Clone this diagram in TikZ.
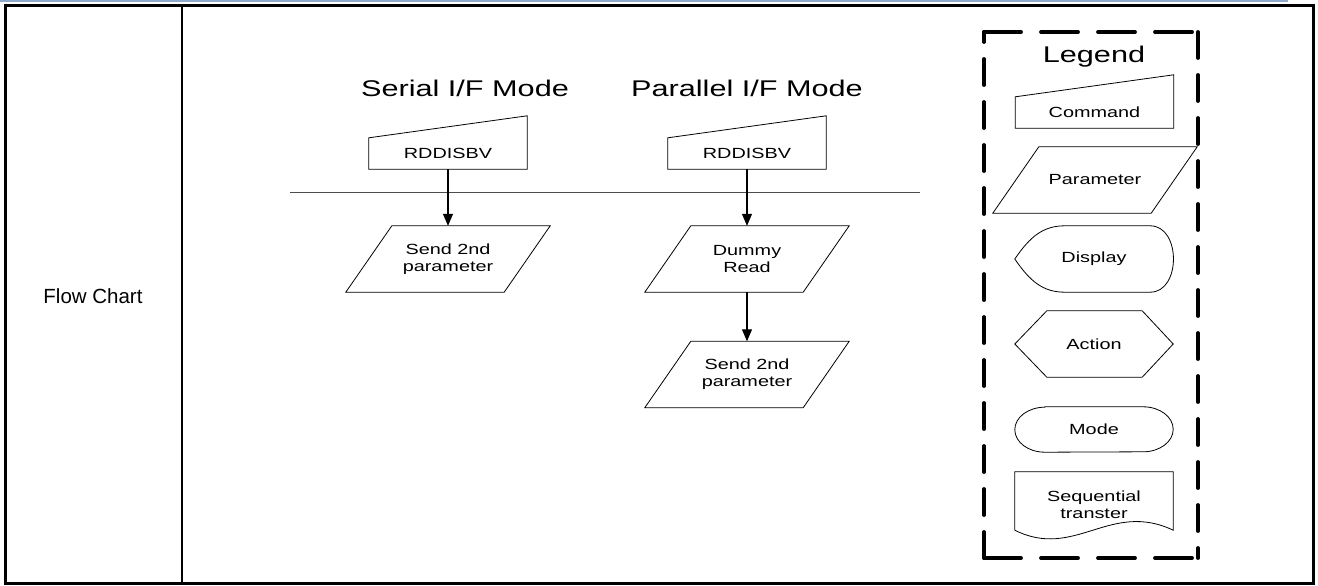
\documentclass[tikz,border=0pt]{standalone}
\usepackage{fontspec}
\setmainfont{Liberation Sans}
\newfontfamily\diagfont[FakeStretch=1.35]{Liberation Sans}
\usetikzlibrary{arrows.meta}
\definecolor{headerblue}{RGB}{141,169,203}

\begin{document}
\begin{tikzpicture}[
  x=1pt, y=-1pt,
  cmdbox/.style={
    minimum width=158pt,
    minimum height=31pt,
    inner sep=0pt,
    font={\diagfont\fontsize{14.7}{17}\selectfont}
  },
  legbox/.style={
    minimum width=158pt,
    minimum height=66pt,
    inner sep=0pt,
    align=center,
    font={\diagfont\fontsize{14.7}{17}\selectfont}
  },
  heading/.style={font={\diagfont\fontsize{22.7}{27}\selectfont}},
  outline/.style={draw=black, line width=0.8pt},
  arrow/.style={-{Triangle[width=10pt,length=12pt]}, line width=1.1pt},
  tableline/.style={line width=3pt},
  legendv/.style={line width=3.8pt, dash pattern=on 26pt off 17pt, line cap=round},
  legendh/.style={line width=3.8pt, dash pattern=on 37pt off 20pt, line cap=round}
]
  \useasboundingbox (0,0) rectangle (1318,586);

  % table frame
  \draw[headerblue, line width=1.6pt] (0,0.8) -- (1288,0.8);
  \draw[tableline] (5.3,6) rectangle (1313.3,583.3);
  \draw[line width=2pt] (181.7,6) -- (181.7,583.3);
  \node[font=\fontsize{20.5}{24}\selectfont] (rowlabel) at (93,296) {Flow Chart};

  % two interface modes
  \node[heading] (serialhd) at (465,88) {Serial I/F Mode};
  \node[heading] (parallelhd) at (747,88) {Parallel I/F Mode};
  \draw[black!70, line width=0.9pt] (290,192) -- (920,192);

  \node[cmdbox] (cmdS) at (448,153.5) {RDDISBV};
  \node[legbox] (sendS) at (448,259) {Send 2nd\\parameter};
  \node[cmdbox] (cmdP) at (747,153.5) {RDDISBV};
  \node[legbox] (dummyP) at (747,259) {Dummy\\Read};
  \node[legbox] (sendP) at (747,374.5) {Send 2nd\\parameter};

  \draw[outline] (cmdS.south west) -- (cmdS.south east) -- ([yshift=22pt]cmdS.north east) -- (cmdS.north west) -- cycle;
  \draw[outline] (cmdP.south west) -- (cmdP.south east) -- ([yshift=22pt]cmdP.north east) -- (cmdP.north west) -- cycle;
  \draw[outline] ([xshift=-23pt]sendS.south west) -- ([xshift=-23pt]sendS.south east) -- ([xshift=23pt]sendS.north east) -- ([xshift=23pt]sendS.north west) -- cycle;
  \draw[outline] ([xshift=-23pt]dummyP.south west) -- ([xshift=-23pt]dummyP.south east) -- ([xshift=23pt]dummyP.north east) -- ([xshift=23pt]dummyP.north west) -- cycle;
  \draw[outline] ([xshift=-23pt]sendP.south west) -- ([xshift=-23pt]sendP.south east) -- ([xshift=23pt]sendP.north east) -- ([xshift=23pt]sendP.north west) -- cycle;

  \draw[arrow] (cmdS.south) -- (sendS.north);
  \draw[arrow] (cmdP.south) -- (dummyP.north);
  \draw[arrow] (dummyP.south) -- (sendP.north);

  % legend
  \draw[legendh] (984,32) -- (1198,32);
  \draw[legendv] (1198,32) -- (1198,558);
  \draw[legendh] (984,558) -- (1198,558);
  \draw[legendv] (984,558) -- (984,32);
  \node[heading] (legendhd) at (1094,57) {Legend};

  \node[cmdbox] (cmdL) at (1094.5,112.5) {Command};
  \node[legbox] (parL) at (1095,180) {Parameter};
  \node[legbox] (dispL) at (1094,259) {Display};
  \node[legbox] (actL) at (1094,344) {Action};
  \node[legbox, minimum height=45pt] (modeL) at (1094,429.5) {Mode};
  \node[legbox] (seqL) at (1094,505) {Sequential\\transter};

  \draw[outline] (cmdL.south west) -- (cmdL.south east) -- ([yshift=22pt]cmdL.north east) -- (cmdL.north west) -- cycle;
  \draw[outline] ([xshift=-23pt]parL.south west) -- ([xshift=-23pt]parL.south east) -- ([xshift=23pt]parL.north east) -- ([xshift=23pt]parL.north west) -- cycle;
  \draw[outline] (dispL.west) .. controls +(15,-22) and +(-22,0) .. ([xshift=50pt]dispL.north west)
    -- ([xshift=-23pt]dispL.north east) .. controls +(31,0) and +(31,0) .. ([xshift=-23pt]dispL.south east)
    -- ([xshift=50pt]dispL.south west) .. controls +(-22,0) and +(15,22) .. (dispL.west) -- cycle;
  \draw[outline] (actL.west) -- ([xshift=32pt]actL.north west) -- ([xshift=-31pt]actL.north east) -- (actL.east)
    -- ([xshift=-31pt]actL.south east) -- ([xshift=32pt]actL.south west) -- cycle;
  \draw[outline] ([xshift=30pt]modeL.north west) -- ([xshift=-30pt]modeL.north east)
    arc[start angle=90, end angle=-90, x radius=30pt, y radius=22.5pt]
    -- ([xshift=30pt]modeL.south west)
    arc[start angle=270, end angle=90, x radius=30pt, y radius=22.5pt] -- cycle;
  \draw[outline] (seqL.north west) -- (seqL.north east) -- ([yshift=8pt]seqL.south east)
    .. controls +(-63,-30) and +(60,30) .. ([yshift=8pt]seqL.south west) -- cycle;
\end{tikzpicture}
\end{document}
